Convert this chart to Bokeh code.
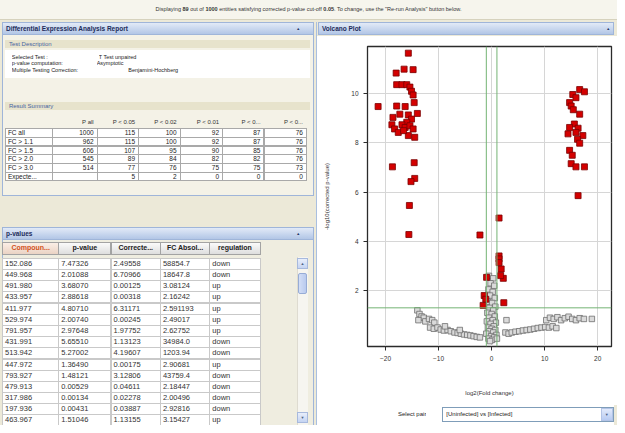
import math
from bokeh.plotting import figure
from bokeh.models import Div, Span, FixedTicker, Range1d
from bokeh.layouts import column, row
from bokeh.embed import file_html
from bokeh.resources import INLINE

# ---------------- data ----------------
shown_count = 89
total_count = 1000
p_cutoff = 0.05
fc_cutoff = 2.0

test_info = [("Selected Test :", "T Test unpaired"),
             ("p-value computation:", "Asymptotic"),
             ("Multiple Testing Correction:", "Benjamini-Hochberg")]

summary_cols = ["P all", "P < 0.05", "P < 0.02", "P < 0.01", "P < 0...", "P < 0..."]
summary_rows = ["FC all", "FC > 1.1", "FC > 1.5", "FC > 2.0", "FC > 3.0", "Expecte..."]
summary_vals = [
    ["1000", "115", "100", "92", "87", "76"],
    ["962", "115", "100", "92", "87", "76"],
    ["606", "107", "95", "90", "85", "76"],
    ["545", "89", "84", "82", "82", "76"],
    ["514", "77", "76", "75", "75", "73"],
    ["", "5", "2", "0", "0", "0"],
]

pval_cols = ["Compoun...", "p-value", "Correcte...", "FC Absol...", "regulation"]
compound = ["152.086", "449.968", "491.980", "433.957", "411.977", "529.974", "791.957", "431.991",
            "513.942", "447.972", "793.927", "479.913", "317.986", "197.936", "463.967"]
pvalue = ["7.47326", "2.01088", "3.68070", "2.88618", "4.80710", "2.00740", "2.97648", "5.65510",
          "5.27002", "1.36490", "1.48121", "0.00529", "0.00134", "0.00431", "1.51046"]
corrected = ["2.49558", "6.70966", "0.00125", "0.00318", "6.31171", "0.00245", "1.97752", "1.13123",
             "4.19607", "0.00175", "3.12806", "0.04611", "0.02278", "0.03887", "1.13155"]
fc_abs = ["58854.7", "18647.8", "3.08124", "2.16242", "2.591193", "2.49017", "2.62752", "34984.0",
          "1203.94", "2.90681", "43759.4", "2.18447", "2.00496", "2.92816", "3.15427"]
regulation = ["down", "down", "up", "up", "up", "up", "up", "down",
              "down", "up", "down", "down", "down", "down", "up"]

# significant entities (red)
sig_x = [-15.7, -18.0, -16.5, -14.8, -17.9, -16.9, -16.0, -15.4, -15.1, -14.8, -21.4, -17.9,
         -16.3, -14.6, -14.0, -18.6, -17.3, -15.7, -15.1, -16.0, -18.8, -16.9, -18.3, -17.6,
         -16.3, -15.4, -14.8, -15.7, -14.5, -16.6, -18.7, -14.6, -14.5, -15.2, -15.5, -15.6,
         -2.2, 1.4, 1.4, 1.4, 1.4, 1.8, -0.95, 2.2, 1.7, -1.4, -1.1, -1.6, 2.3,
         16.6, 17.5, 15.3, 15.9, 14.7, 15.0, 15.4, 16.6, 15.6, 14.7, 16.3, 15.9, 14.4,
         17.2, 16.2, 16.6, 14.7, 15.2, 15.0, 15.9, 17.5, 16.3]
sig_y = [11.65, 10.84, 11.0, 10.98, 10.37, 10.37, 10.37, 10.27, 10.1, 9.95, 9.48, 9.5,
         9.48, 9.64, 9.2, 9.04, 9.17, 9.14, 8.97, 8.84, 8.74, 8.74, 8.57, 8.43,
         8.63, 8.70, 8.57, 8.3, 8.23, 8.5, 7.03, 7.2, 6.56, 6.43, 5.46, 4.28,
         4.26, 4.95, 3.41, 3.29, 3.14, 2.88, 2.54, 2.5, 2.61, 1.8, 1.65, 1.4, 1.51,
         10.17, 10.08, 9.97, 9.84, 9.64, 9.5, 9.35, 9.17, 8.77, 8.63, 8.6, 8.43, 8.37,
         8.3, 8.15, 7.99, 7.7, 7.5, 7.16, 7.03, 7.03, 5.86]

# non-significant entities (grey)
ns_x = [-14.0, -13.6, -13.2, -12.8, -13.8, -12.5, -11.8, -11.2, -10.8,
        -11.6, -10.9, -10.2, -9.6, -9.0, -8.3, -7.7, -7.0, -6.4, -5.8, -5.2, -4.6, -4.0,
        -3.4, -2.8, -2.2, -8.8, -6.0,
        -0.5, 0.3, -0.2, 0.5, -0.6, 0.2, -0.3, 0.6, -0.7, 0.1, 0.7, -0.4, 0.3, -0.8, 0.0,
        0.6, -0.5, 0.2, -0.9, 0.8, -0.2, 0.4, -0.7, 0.0, 0.7, -0.4, 0.3, -1.0, 0.9, -0.1,
        0.5, -0.6, 0.1, -0.3, 1.0,
        2.8,
        2.6, 3.2, 3.8, 4.5, 5.2, 5.9, 6.6, 7.3, 8.0, 8.7, 9.4, 10.1, 10.8, 11.5, 12.2,
        10.3, 11.0, 11.7, 12.4, 13.1, 13.8, 14.5, 15.2, 15.9, 16.6, 17.4, 18.9]
ns_y = [1.2, 1.05, 0.95, 0.9, 0.8, 0.75, 0.85, 0.8, 0.7,
        0.5, 0.45, 0.5, 0.42, 0.38, 0.4, 0.35, 0.3, 0.28, 0.25, 0.22, 0.2, 0.18,
        0.15, 0.12, 0.1, 0.55, 0.4,
        2.6, 2.5, 2.3, 2.2, 2.05, 1.95, 1.8, 1.7, 1.55, 1.5, 1.35, 1.3, 1.2, 1.1, 1.05,
        0.95, 0.9, 0.8, 0.75, 0.7, 0.65, 0.55, 0.5, 0.45, 0.4, 0.35, 0.3, 0.25, 0.2, 0.15,
        0.1, 0.05, 0.0, -0.05, 0.05,
        0.8,
        0.3, 0.25, 0.3, 0.33, 0.35, 0.38, 0.4, 0.42, 0.45, 0.48, 0.5, 0.52, 0.5, 0.55, 0.48,
        0.8, 0.9, 0.85, 0.92, 0.8, 0.88, 0.94, 0.85, 0.8, 0.88, 0.85, 0.85]

x_ticks = [-20, -10, 0, 10, 20]
y_ticks = [2, 4, 6, 8, 10]

# ---------------- styles / layout helpers ----------------
FONT = "'Liberation Sans', Arial, sans-serif"
BEIGE = "#ece9d8"
PANEL_BG = "#f4f2e7"
HDR_GRAD = "linear-gradient(#e2eaf7, #b2c6e6)"
HDR_BORDER = "#9fb5d9"
TOTAL_W, TOTAL_H = 617, 425
SX, SY = TOTAL_W / 625.0, TOTAL_H / 433.0


def boxer(ox, oy):
    def box(x, y, w, h, style="", inner=""):
        l = x * SX - ox
        t = y * SY - oy
        return (f'<div style="position:absolute;left:{l:.1f}px;top:{t:.1f}px;width:{w * SX:.1f}px;'
                f'height:{h * SY:.1f}px;box-sizing:border-box;overflow:hidden;white-space:nowrap;{style}">'
                f'{inner}</div>')
    return box


def header(box, x, y, w, title, caret_x):
    return (box(x, y, w, 14, f"background:{HDR_GRAD};border:1px solid {HDR_BORDER};font-weight:bold;"
                f"font-size:6.5px;line-height:12px;color:#1d2c5a;padding-left:3px;", title)
            + box(caret_x, y, 8, 14, "font-size:4px;line-height:13px;color:#2a3a66;text-align:center;",
                  "&#9650;"))


def wrap(w, h, bg, inner):
    return (f'<div style="position:relative;width:{w}px;height:{h}px;background:{bg};'
            f'font-family:{FONT};color:#222;overflow:hidden;">{inner}</div>')


BANNER_H = 20
LEFT_W = 317
ROW_H = TOTAL_H - BANNER_H
RIGHT_W = TOTAL_W - LEFT_W
RHDR_H = 16
SEL_H = 20
FIG_H = ROW_H - RHDR_H - SEL_H

# ---------------- banner ----------------
bb = boxer(0, 0)
banner_html = wrap(TOTAL_W, BANNER_H, "#f6f5ed",
                   bb(0, 0, 625, 20, "text-align:center;font-size:5.5px;line-height:19px;color:#333;"
                      "border-bottom:1px solid #d6d2bd;",
                      f"Displaying <b>{shown_count}</b> out of <b>{total_count}</b> entities satisfying "
                      f"corrected p-value cut-off <b>{p_cutoff:.2f}</b>. To change, use the "
                      f"&quot;Re-run Analysis&quot; button below."))
banner = Div(text=banner_html, width=TOTAL_W, height=BANNER_H, margin=0)

# ---------------- left column ----------------
box = boxer(0, BANNER_H)
L = []
# Differential expression report panel
L.append(box(2, 22, 316, 178, f"background:{PANEL_BG};border:1px solid {HDR_BORDER};"))
L.append(header(box, 2, 22, 316, "Differential Expression Analysis Report", 298))
L.append(box(5, 41, 309, 8, "background:#e7e3cc;color:#4863a0;font-size:6px;line-height:8px;padding-left:4px;",
             "Test Description"))
L.append(box(5, 51, 309, 28, "background:#ffffff;"))
val_x = [100, 98, 130]
for i, (lab, val) in enumerate(test_info):
    t = 54.5 + i * 7
    L.append(box(12, t, 86, 7, "font-size:5.5px;line-height:7px;color:#222;", lab))
    L.append(box(val_x[i], t, 90, 7, "font-size:5.5px;line-height:7px;color:#222;", val))
L.append(box(5, 104, 309, 8, "background:#e7e3cc;color:#4863a0;font-size:6px;line-height:8px;padding-left:4px;",
             "Result Summary"))
edges = [5, 53, 98, 140, 182, 225, 267, 310]
for j, c in enumerate(summary_cols):
    x0, x1 = edges[j + 1], edges[j + 2]
    L.append(box(x0, 120.5, x1 - x0, 10, "font-size:6px;line-height:9px;text-align:right;padding-right:3px;color:#333;", c))
for i, rlab in enumerate(summary_rows):
    t = 130.5 + i * 8.9
    L.append(box(edges[0], t, edges[1] - edges[0] + 1, 9.9,
                 "background:#fff;border:1px solid #a9a9a9;font-size:6.5px;line-height:8px;padding-left:2px;color:#222;",
                 rlab))
    for j, v in enumerate(summary_vals[i]):
        x0, x1 = edges[j + 1], edges[j + 2]
        L.append(box(x0, t, x1 - x0 + 1, 9.9,
                     "background:#fff;border:1px solid #a9a9a9;font-size:6.5px;line-height:8px;text-align:right;"
                     "padding-right:3px;color:#222;", v))

# p-values panel
L.append(box(2, 231, 316, 205, f"background:#efede0;border:1px solid {HDR_BORDER};"))
L.append(header(box, 2, 231, 316, "p-values", 298))
pedges = [2, 59, 112, 162, 212, 263]
for j, c in enumerate(pval_cols):
    x0, x1 = pedges[j], pedges[j + 1]
    col = "#d2521c" if j == 0 else "#222"
    bg = "linear-gradient(#fbeee6,#ead3c4)" if j == 0 else "linear-gradient(#fafafa,#dedede)"
    L.append(box(x0, 247, x1 - x0 + 1, 12.5,
                 f"background:{bg};border:1px solid #a3a3a3;font-size:7px;font-weight:bold;line-height:10px;"
                 f"text-align:center;color:{col};", c))
cols_data = [compound, pvalue, corrected, fc_abs, regulation]
for i in range(len(compound)):
    t = 262.6 + i * 11.4
    for j in range(5):
        x0, x1 = pedges[j], pedges[j + 1]
        L.append(box(x0, t, x1 - x0 + 1, 12.4,
                     "background:#fff;border:1px solid #c9c9c9;font-size:7.5px;line-height:10px;padding-left:2px;"
                     "color:#333;", cols_data[j][i]))
# scrollbar
L.append(box(301, 262, 11, 175, "background:#f6f5f0;border-left:1px solid #dedbd0;"))
L.append(box(301, 263, 11, 11, "background:linear-gradient(#e8eefb,#c5d4f2);border:1px solid #a7b9dd;"
             "font-size:4px;line-height:9px;text-align:center;color:#4d6185;", "&#9650;"))
L.append(box(302, 278, 9, 22, "background:linear-gradient(90deg,#d3def6,#b9caee);border:1px solid #97acd6;border-radius:2px;"))
L.append(box(301, 420, 11, 11, "background:linear-gradient(#e8eefb,#c5d4f2);border:1px solid #a7b9dd;"
             "font-size:4px;line-height:9px;text-align:center;color:#4d6185;", "&#9660;"))
# right panel left border
L.append(box(320, 22, 2.5, 411, "background:#a9bfe0;"))

left_div = Div(text=wrap(LEFT_W, ROW_H, BEIGE, "".join(L)), width=LEFT_W, height=ROW_H, margin=0)

# ---------------- right column ----------------
rb = boxer(LEFT_W, BANNER_H)
right_hdr = Div(text=wrap(RIGHT_W, RHDR_H, BEIGE, header(rb, 322, 22, 300, "Volcano Plot", 612)),
                width=RIGHT_W, height=RHDR_H, margin=0)

sb = boxer(LEFT_W, TOTAL_H - SEL_H)
sel_parts = [
    sb(380, 416, 52, 12, "font-size:6px;line-height:12px;text-align:right;color:#222;", "Select pair"),
    sb(448, 415, 174, 15, "background:#fff;border:1px solid #7f9db9;font-size:6px;line-height:13px;"
       "padding-left:3px;color:#222;", "[Uninfected] vs [Infected]"),
    sb(608.5, 416, 12.5, 13, "background:linear-gradient(#e2eafb,#b8cbf2);border:1px solid #b3c4e6;"
       "font-size:4px;line-height:11px;text-align:center;color:#4d6185;", "&#9660;"),
    sb(622, 410, 3, 23, "background:" + BEIGE + ";"),
]
select_div = Div(text=wrap(RIGHT_W, SEL_H, "#ffffff", "".join(sel_parts)), width=RIGHT_W, height=SEL_H, margin=0)

p = figure(width=RIGHT_W, height=FIG_H, output_backend="svg", toolbar_location=None,
           x_range=Range1d(-23.4, 22.6), y_range=Range1d(-0.27, 11.92),
           min_border_left=50, min_border_right=6, min_border_top=10, min_border_bottom=59)
p.background_fill_color = "#ffffff"
p.border_fill_color = "#ffffff"
p.outline_line_color = "#2b2b2b"
p.outline_line_width = 1.3

p.xaxis.ticker = FixedTicker(ticks=x_ticks)
p.yaxis.ticker = FixedTicker(ticks=y_ticks)
p.xaxis.axis_label = "log2(Fold change)"
p.yaxis.axis_label = "-log10(corrected p-value)"
for ax in (p.xaxis[0], p.yaxis[0]):
    ax.axis_label_text_font = "Liberation Sans"
    ax.axis_label_text_font_size = "6px"
    ax.axis_label_text_font_style = "normal"
    ax.axis_label_text_color = "#333333"
    ax.major_label_text_font = "Liberation Sans"
    ax.major_label_text_font_size = "6.5px"
    ax.major_label_text_color = "#333333"
    ax.axis_line_color = "#2b2b2b"
    ax.major_tick_line_color = "#2b2b2b"
    ax.major_tick_out = 4
    ax.major_tick_in = 0
    ax.minor_tick_line_color = None
    ax.major_label_standoff = 5
p.xaxis.axis_label_standoff = 26
p.yaxis.axis_label_standoff = 18

p.xgrid.grid_line_color = "#d6d6d6"
p.ygrid.grid_line_color = "#d6d6d6"

fc_line = math.log2(fc_cutoff)
p_line = -math.log10(p_cutoff)
for loc in (-fc_line, fc_line):
    p.add_layout(Span(location=loc, dimension="height", line_color="#74b374", line_width=1))
p.add_layout(Span(location=p_line, dimension="width", line_color="#74b374", line_width=1))

p.scatter(ns_x, ns_y, marker="square", size=5.5, fill_color="#dadada",
          line_color="#6f6f6f", line_width=0.8)
p.scatter(sig_x, sig_y, marker="square", size=6, fill_color="#d40000",
          line_color="#7a0000", line_width=0.8)

right_col = column(right_hdr, p, select_div, spacing=0)
layout = column(banner, row(left_div, right_col, spacing=0), spacing=0)

open("out.html", "w").write(file_html(layout, INLINE))
